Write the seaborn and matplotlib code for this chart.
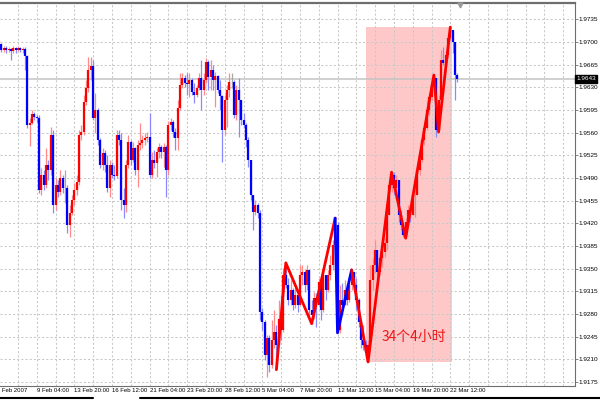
import numpy as np
import pandas as pd
import matplotlib
matplotlib.use("Agg")
import matplotlib.pyplot as plt
from matplotlib.lines import Line2D
from matplotlib.patches import Rectangle
import seaborn as sns

# ── H4 bars (one value per bar) ─────────────────────────────────────
first_open = 1.9690
closes = [
    1.9697, 1.9688, 1.9691, 1.9688, 1.9689, 1.9686, 1.9691, 1.9688, 1.9691, 1.9688,
    1.9689, 1.9678, 1.9572, 1.9575, 1.9589, 1.9584, 1.9583, 1.9471, 1.9494, 1.9479,
    1.9510, 1.9502, 1.9556, 1.9448, 1.9479, 1.9468, 1.9490, 1.9474, 1.9474, 1.9417,
    1.9436, 1.9456, 1.9471, 1.9484, 1.9556, 1.9561, 1.9607, 1.9629, 1.9657, 1.9663,
    1.9583, 1.9595, 1.9549, 1.9510, 1.9528, 1.9510, 1.9474, 1.9510, 1.9494, 1.9493,
    1.9556, 1.9549, 1.9456, 1.9448, 1.9510, 1.9545, 1.9518, 1.9536, 1.9502, 1.9541,
    1.9544, 1.9549, 1.9552, 1.9553, 1.9494, 1.9518, 1.9513, 1.9530, 1.9538, 1.9530,
    1.9538, 1.9502, 1.9572, 1.9576, 1.9561, 1.9552, 1.9598, 1.9634, 1.9644, 1.9637,
    1.9635, 1.9641, 1.9623, 1.9618, 1.9629, 1.9644, 1.9626, 1.9641, 1.9669, 1.9646,
    1.9657, 1.9641, 1.9647, 1.9626, 1.9617, 1.9564, 1.9610, 1.9626, 1.9638, 1.9638,
    1.9587, 1.9626, 1.9610, 1.9579, 1.9572, 1.9549, 1.9518, 1.9464, 1.9437, 1.9448,
    1.9436, 1.9283, 1.9267, 1.9216, 1.9243, 1.9201, 1.9240, 1.9252, 1.9232, 1.9273,
    1.9255, 1.9340, 1.9325, 1.9301, 1.9317, 1.9294, 1.9309, 1.9294, 1.9340, 1.9345,
    1.9325, 1.9348, 1.9286, 1.9278, 1.9304, 1.9294, 1.9329, 1.9286, 1.9340, 1.9317,
    1.9340, 1.9355, 1.9386, 1.9417, 1.9255, 1.9301, 1.9294, 1.9317, 1.9301, 1.9325,
    1.9345, 1.9325, 1.9301, 1.9267, 1.9240, 1.9232, 1.9221, 1.9232, 1.9332, 1.9355,
    1.9379, 1.9345, 1.9366, 1.9375, 1.9389, 1.9433, 1.9479, 1.9494, 1.9474, 1.9487,
    1.9433, 1.9417, 1.9402, 1.9422, 1.9440, 1.9433, 1.9464, 1.9464, 1.9502, 1.9518,
    1.9549, 1.9567, 1.9595, 1.9615, 1.9634, 1.9644, 1.9564, 1.9610, 1.9672, 1.9667,
    1.9680, 1.9706, 1.9718, 1.9700, 1.9649, 1.9643,
]
highs = [
    1.9703, 1.9698, 1.9694, 1.9694, 1.9692, 1.9691, 1.9694, 1.9692, 1.9694, 1.9692,
    1.9692, 1.9692, 1.9680, 1.9583, 1.9595, 1.9592, 1.9587, 1.9587, 1.9505, 1.9502,
    1.9536, 1.9518, 1.9569, 1.9564, 1.9490, 1.9487, 1.9502, 1.9494, 1.9502, 1.9479,
    1.9448, 1.9464, 1.9482, 1.9494, 1.9564, 1.9572, 1.9618, 1.9641, 1.9677, 1.9677,
    1.9672, 1.9621, 1.9598, 1.9552, 1.9536, 1.9533, 1.9525, 1.9518, 1.9515, 1.9510,
    1.9564, 1.9564, 1.9559, 1.9474, 1.9518, 1.9556, 1.9549, 1.9545, 1.9538, 1.9549,
    1.9575, 1.9556, 1.9559, 1.9561, 1.9590, 1.9530, 1.9533, 1.9536, 1.9544, 1.9541,
    1.9544, 1.9541, 1.9578, 1.9583, 1.9579, 1.9567, 1.9610, 1.9652, 1.9652, 1.9649,
    1.9652, 1.9652, 1.9644, 1.9637, 1.9634, 1.9652, 1.9672, 1.9652, 1.9675, 1.9672,
    1.9672, 1.9664, 1.9654, 1.9649, 1.9641, 1.9618, 1.9618, 1.9634, 1.9652, 1.9652,
    1.9641, 1.9634, 1.9644, 1.9610, 1.9590, 1.9575, 1.9553, 1.9518, 1.9464, 1.9456,
    1.9451, 1.9440, 1.9289, 1.9270, 1.9247, 1.9247, 1.9270, 1.9286, 1.9263, 1.9301,
    1.9309, 1.9351, 1.9359, 1.9335, 1.9332, 1.9320, 1.9320, 1.9314, 1.9355, 1.9355,
    1.9348, 1.9355, 1.9348, 1.9301, 1.9314, 1.9312, 1.9335, 1.9332, 1.9348, 1.9340,
    1.9348, 1.9371, 1.9394, 1.9428, 1.9422, 1.9325, 1.9328, 1.9332, 1.9325, 1.9335,
    1.9348, 1.9345, 1.9335, 1.9304, 1.9270, 1.9263, 1.9240, 1.9240, 1.9355, 1.9366,
    1.9394, 1.9379, 1.9379, 1.9386, 1.9397, 1.9443, 1.9487, 1.9499, 1.9499, 1.9494,
    1.9487, 1.9440, 1.9422, 1.9428, 1.9448, 1.9448, 1.9474, 1.9476, 1.9510, 1.9528,
    1.9556, 1.9572, 1.9610, 1.9621, 1.9641, 1.9649, 1.9644, 1.9618, 1.9688, 1.9692,
    1.9688, 1.9714, 1.9723, 1.9718, 1.9700, 1.9652,
]
lows = [
    1.9689, 1.9685, 1.9685, 1.9683, 1.9685, 1.9672, 1.9683, 1.9683, 1.9686, 1.9685,
    1.9683, 1.9657, 1.9567, 1.9539, 1.9573, 1.9579, 1.9576, 1.9467, 1.9464, 1.9471,
    1.9474, 1.9487, 1.9494, 1.9436, 1.9440, 1.9460, 1.9464, 1.9467, 1.9451, 1.9405,
    1.9399, 1.9433, 1.9448, 1.9464, 1.9479, 1.9549, 1.9556, 1.9603, 1.9623, 1.9641,
    1.9579, 1.9559, 1.9541, 1.9505, 1.9502, 1.9499, 1.9468, 1.9460, 1.9490, 1.9487,
    1.9490, 1.9541, 1.9440, 1.9428, 1.9437, 1.9505, 1.9510, 1.9515, 1.9494, 1.9476,
    1.9533, 1.9536, 1.9541, 1.9545, 1.9490, 1.9490, 1.9505, 1.9491, 1.9521, 1.9521,
    1.9507, 1.9460, 1.9494, 1.9564, 1.9553, 1.9533, 1.9533, 1.9595, 1.9629, 1.9630,
    1.9618, 1.9615, 1.9618, 1.9606, 1.9615, 1.9626, 1.9595, 1.9618, 1.9637, 1.9626,
    1.9626, 1.9626, 1.9599, 1.9621, 1.9595, 1.9515, 1.9556, 1.9569, 1.9615, 1.9629,
    1.9583, 1.9579, 1.9553, 1.9572, 1.9567, 1.9538, 1.9507, 1.9456, 1.9410, 1.9433,
    1.9428, 1.9270, 1.9255, 1.9209, 1.9182, 1.9190, 1.9196, 1.9227, 1.9194, 1.9232,
    1.9240, 1.9252, 1.9320, 1.9294, 1.9294, 1.9286, 1.9289, 1.9283, 1.9294, 1.9325,
    1.9314, 1.9317, 1.9273, 1.9265, 1.9273, 1.9260, 1.9294, 1.9270, 1.9283, 1.9301,
    1.9314, 1.9332, 1.9348, 1.9379, 1.9251, 1.9250, 1.9286, 1.9294, 1.9294, 1.9298,
    1.9317, 1.9314, 1.9286, 1.9260, 1.9227, 1.9224, 1.9212, 1.9206, 1.9232, 1.9317,
    1.9343, 1.9321, 1.9340, 1.9352, 1.9368, 1.9379, 1.9433, 1.9468, 1.9464, 1.9456,
    1.9422, 1.9410, 1.9399, 1.9397, 1.9417, 1.9422, 1.9433, 1.9430, 1.9464, 1.9494,
    1.9515, 1.9541, 1.9564, 1.9587, 1.9610, 1.9623, 1.9553, 1.9561, 1.9610, 1.9664,
    1.9664, 1.9675, 1.9703, 1.9683, 1.9610, 1.9638,
]

# zigzag swing points (bar index, price)
zz_a_bar = [118, 122, 133, 143]
zz_a_price = [1.9194, 1.9359, 1.9265, 1.9428]
zz_b_bar = [143, 144, 150]
zz_b_price = [1.9428, 1.9251, 1.9348]
zz_c_bar = [150, 157, 167, 173, 185, 187, 192]
zz_c_price = [1.9348, 1.9206, 1.9499, 1.9397, 1.9649, 1.9561, 1.9723]

# highlighted run of 34 four-hour bars
box_bars = (156.2, 192.7)
box_prices = (1.9206, 1.9723)
box_label = "34个4小时"

tick_bars = list(range(0, 193, 16))
tick_text = ["6 Feb 2007", "9 Feb 04:00", "13 Feb 20:00", "16 Feb 12:00",
             "21 Feb 04:00", "23 Feb 20:00", "28 Feb 12:00", "5 Mar 04:00",
             "7 Mar 20:00", "12 Mar 12:00", "15 Mar 04:00", "19 Mar 20:00",
             "22 Mar 12:00"]
price_ticks = [1.9175, 1.9210, 1.9245, 1.9280, 1.9315, 1.9350, 1.9385, 1.9420,
               1.9455, 1.9490, 1.9525, 1.9560, 1.9595, 1.9630, 1.9665, 1.9700,
               1.9735]

sns.set_theme(style="white")
plt.rcParams["font.family"] = ["Liberation Sans", "DejaVu Sans"]

UP, DN, DOJI = "#FF0000", "#0000FF", "#808080"
GRID = "#C8C8C8"
FRAME = "#6E6E6E"

df = pd.DataFrame({"bar": np.arange(len(closes)),
                   "open": [first_open] + closes[:-1],
                   "high": highs, "low": lows, "close": closes})
d = np.sign(df["close"] - df["open"])
body_c = d.map({1: UP, -1: DN, 0: DOJI}).tolist()
wick_c = d.map({1: "#FF8A8A", -1: "#8A8AFF", 0: "#A8A8A8"}).tolist()

fig = plt.figure(figsize=(6, 4), dpi=100)
fig.patch.set_facecolor("white")
ax = fig.add_axes([0, 14 / 400, 575 / 600, 383 / 400])
ax.set_facecolor("white")
ax.set_xlim(0.383, 245.06)
ax.set_ylim(1.91688, 1.97602)

# highlight box + grid
ax.add_patch(Rectangle((box_bars[0], box_prices[0]), box_bars[1] - box_bars[0],
                       box_prices[1] - box_prices[0], facecolor="#FFC8C8",
                       edgecolor="none", zorder=0.3))
for p in price_ticks:
    ax.axhline(p, color=GRID, lw=0.75, ls=(0, (2, 2)), zorder=0.6)
for v in range(8, 241, 8):
    ax.axvline(v, color=GRID, lw=0.75, ls=(0, (2, 2)), zorder=0.6)

# current price line
ax.axhline(closes[-1], color="#C4C4C4", lw=1.1, zorder=1)

# candles
ax.vlines(df["bar"], df["low"], df["high"], colors=wick_c, lw=0.9, zorder=2)
ax.vlines(df["bar"], df["open"], df["close"], colors=body_c, lw=1.6, zorder=3)

# zigzag
zz = pd.concat([
    pd.DataFrame({"bar": zz_a_bar, "price": zz_a_price, "leg": "a"}),
    pd.DataFrame({"bar": zz_b_bar, "price": zz_b_price, "leg": "b"}),
    pd.DataFrame({"bar": zz_c_bar, "price": zz_c_price, "leg": "c"}),
], ignore_index=True)
sns.lineplot(data=zz, x="bar", y="price", hue="leg",
             palette={"a": UP, "b": DN, "c": UP}, estimator=None, sort=False,
             legend=False, linewidth=2.0, ax=ax, zorder=4)

ax.text(176.6, 1.9244, box_label, ha="center", va="center", fontsize=10,
        color="#EE1515", family=["Noto Sans CJK SC", "DejaVu Sans"], zorder=5)

# axes frame like the terminal window
ax.spines["left"].set_visible(False)
ax.spines["top"].set_color(FRAME)
ax.spines["top"].set_linewidth(1.6)
ax.spines["right"].set_color(FRAME)
ax.spines["right"].set_linewidth(0.8)
ax.spines["bottom"].set_color(FRAME)
ax.spines["bottom"].set_linewidth(0.8)

ax.yaxis.tick_right()
ax.set_yticks(price_ticks)
ax.set_yticklabels([f"{p:.4f}" for p in price_ticks])
ax.tick_params(axis="y", direction="out", length=2, width=0.6, pad=0.8,
               color=FRAME, labelsize=4.6, labelcolor="black")
ax.set_xticks(tick_bars[1:])
ax.set_xticklabels([])
ax.tick_params(axis="x", direction="out", length=2, width=0.6, color=FRAME)
xt = ax.get_xaxis_transform()
for b, s in zip(tick_bars, tick_text):
    ax.text(b - (0.9 if b == 0 else 0), -0.0117, s, transform=xt, ha="left",
            va="center", fontsize=4.3, color="black", clip_on=False)
ax.set_xlabel("")
ax.set_ylabel("")

# last price tag and chart-shift marker
ax.text(1.002, closes[-1], f"{closes[-1]:.4f}", transform=ax.get_yaxis_transform(),
        ha="left", va="center", fontsize=4.6, color="white", zorder=10,
        bbox=dict(boxstyle="square,pad=0.2", fc="black", ec="black"), clip_on=False)
ax.plot([196.1], [0.994], transform=xt, marker="v", ms=3.5, color="#9A9A9A",
        clip_on=False, zorder=10)

fig.add_artist(Line2D([0, 93 / 600], [0.004, 0.004], color="black", lw=1.5))
fig.add_artist(Line2D([140 / 600, 1], [0.004, 0.004], color="black", lw=1.5))

plt.savefig("out.png", dpi=100)
plt.close()
